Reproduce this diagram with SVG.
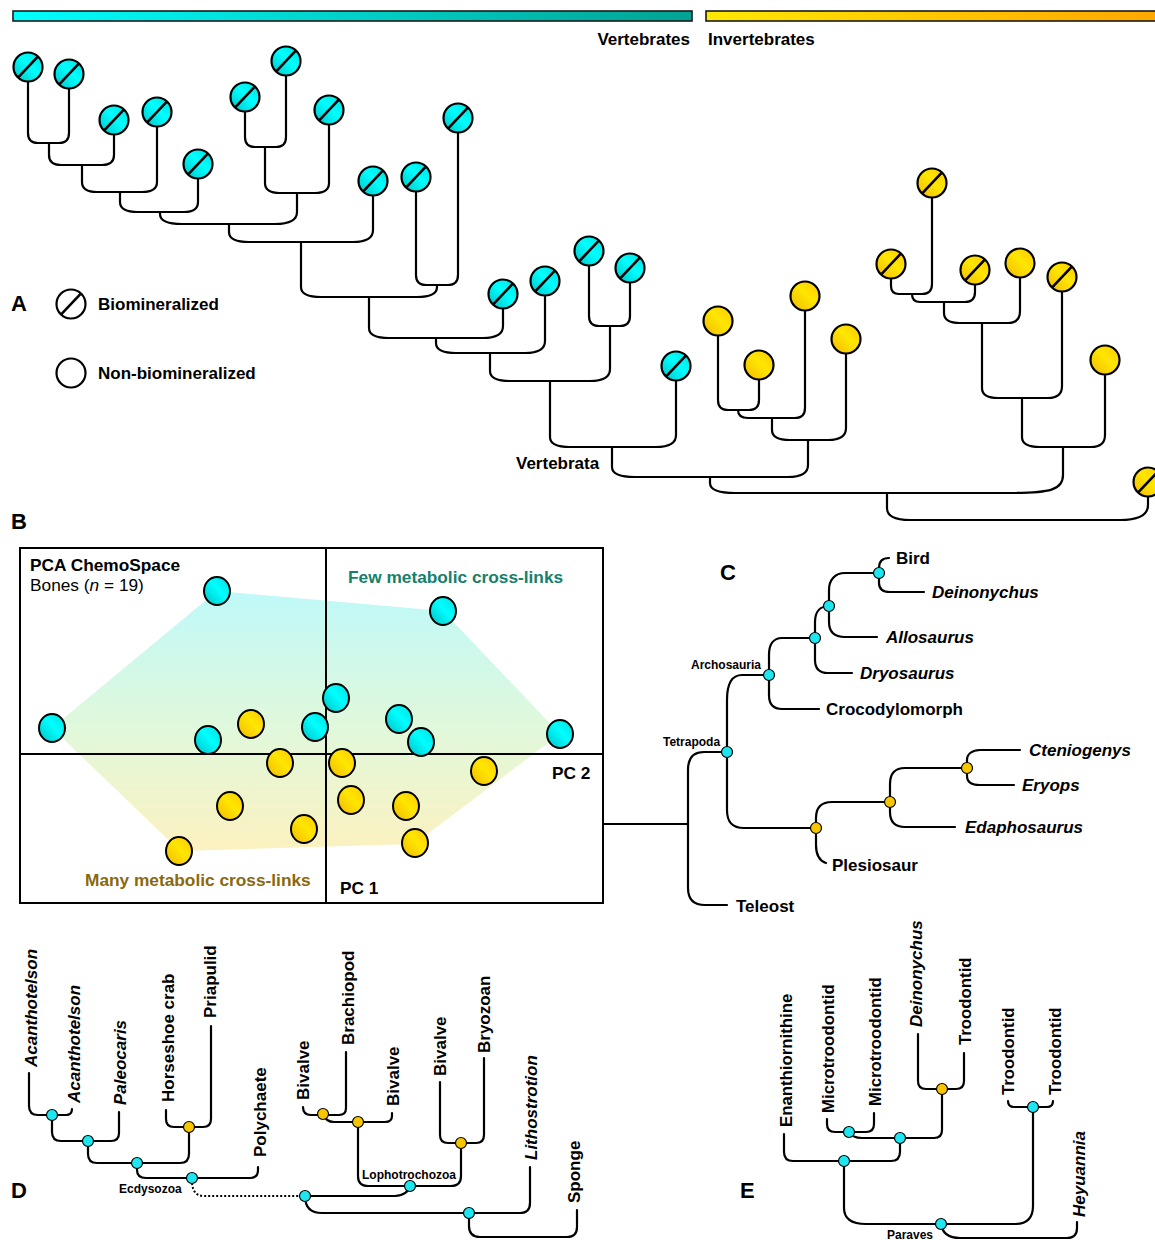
<svg xmlns="http://www.w3.org/2000/svg" xmlns:xlink="http://www.w3.org/1999/xlink" width="1155" height="1240" viewBox="0 0 1155 1240">
<defs>
<linearGradient id="gCyan" x1="0" y1="1" x2="1" y2="0"><stop offset="0" stop-color="#00bfc4"/><stop offset="0.55" stop-color="#00ffff"/><stop offset="1" stop-color="#00dcdc"/></linearGradient>
<linearGradient id="gYel" x1="0" y1="1" x2="1" y2="0"><stop offset="0" stop-color="#f2b800"/><stop offset="0.55" stop-color="#ffe600"/><stop offset="1" stop-color="#ffc800"/></linearGradient>
<linearGradient id="barC" x1="0" y1="0" x2="1" y2="0"><stop offset="0" stop-color="#00ffff"/><stop offset="1" stop-color="#00a393"/></linearGradient>
<linearGradient id="barY" x1="0" y1="0" x2="1" y2="0"><stop offset="0" stop-color="#ffe800"/><stop offset="1" stop-color="#ffa600"/></linearGradient>
<linearGradient id="hull" gradientUnits="userSpaceOnUse" x1="0" y1="591" x2="0" y2="851"><stop offset="0" stop-color="#bff9f8"/><stop offset="0.55" stop-color="#e2f8da"/><stop offset="1" stop-color="#fcf1c0"/></linearGradient>
<g id="tvh"><circle r="14.5" fill="url(#gCyan)" stroke="#000" stroke-width="2.2"/><line x1="-9.8" y1="10.3" x2="9.8" y2="-10.3" stroke="#000" stroke-width="2.6"/></g>
<g id="tyh"><circle r="14.5" fill="url(#gYel)" stroke="#000" stroke-width="2.2"/><line x1="-9.8" y1="10.3" x2="9.8" y2="-10.3" stroke="#000" stroke-width="2.6"/></g>
<g id="tyn"><circle r="14.5" fill="url(#gYel)" stroke="#000" stroke-width="2.2"/></g>
<g id="pc"><ellipse rx="13" ry="14" fill="url(#gCyan)" stroke="#000" stroke-width="2"/></g>
<g id="py"><ellipse rx="13" ry="14" fill="url(#gYel)" stroke="#000" stroke-width="2"/></g>
<circle id="nc" r="5.5" fill="#1de6f0" stroke="#000" stroke-width="1.2"/>
<circle id="ny" r="5.5" fill="#f7c600" stroke="#000" stroke-width="1.2"/>
</defs>
<style>
.br{fill:none;stroke:#000;stroke-width:2.2;stroke-linecap:round;stroke-linejoin:round}
.dot{fill:none;stroke:#000;stroke-width:2;stroke-dasharray:2 2}
text{font-family:"Liberation Sans",Arial,sans-serif;font-weight:bold;fill:#000}
.big{font-size:22px}
.lb{font-size:17px}
.lbE{font-size:16.8px}
.pb{font-size:17.3px}
.sm{font-size:12px}
.it{font-style:italic}
</style>
<rect width="1155" height="1240" fill="#fff"/>

<!-- top bars -->
<g id="bar-vertebrates"><rect x="13" y="11" width="679" height="10" fill="url(#barC)" stroke="#1a1a1a" stroke-width="1.6"/><text x="690" y="45" class="lb" text-anchor="end">Vertebrates</text></g>
<g id="bar-invertebrates"><rect x="706" y="11" width="460" height="10" fill="url(#barY)" stroke="#1a1a1a" stroke-width="1.6"/><text x="708" y="45" class="lb">Invertebrates</text></g>

<!-- Panel A connectors -->
<g id="panelA-connectors">
<path class="br" d="M28,81 V133 Q28,143 38,143 H59 Q69,143 69,133 V88"/>
<path class="br" d="M49,143 V155 Q49,165 61,165 H102 Q114,165 114,155 V134"/>
<path class="br" d="M82,165 V182 Q82,192 97,192 H142 Q157,192 157,182 V126"/>
<path class="br" d="M120,192 V202 Q120,212 138,212 H184 Q198,212 198,202 V178"/>
<path class="br" d="M245,111 V137 Q245,147 255,147 H276 Q286,147 286,137 V75"/>
<path class="br" d="M265,147 V183 Q265,193 280,193 H315 Q329,193 329,183 V124"/>
<path class="br" d="M160,212 V214 Q160,224 182,224 H275 Q297,224 297,212 V193"/>
<path class="br" d="M229,224 V232 Q229,242 249,242 H353 Q373,242 373,230 V195"/>
<path class="br" d="M416,191 V275 Q416,285 426,285 H448 Q458,285 458,275 V132"/>
<path class="br" d="M301,242 V287 Q301,297 321,297 H417 Q437,297 437,287 V285"/>
<path class="br" d="M369,297 V328 Q369,338 389,338 H483 Q503,338 503,326 V308"/>
<path class="br" d="M436,338 V343 Q436,353 456,353 H525 Q545,353 545,341 V295"/>
<path class="br" d="M589,265 V316 Q589,326 599,326 H620 Q630,326 630,316 V282"/>
<path class="br" d="M490,353 V371 Q490,381 510,381 H590 Q610,381 610,369 V326"/>
<path class="br" d="M550,381 V437 Q550,447 570,447 H656 Q676,447 676,435 V380"/>
<path class="br" d="M718,335 V400 Q718,410 728,410 H749 Q759,410 759,400 V379"/>
<path class="br" d="M738,410 Q738,418 748,418 H795 Q805,418 805,408 V310"/>
<path class="br" d="M772,418 V430 Q772,440 790,440 H828 Q846,440 846,428 V353"/>
<path class="br" d="M612,447 V467 Q612,477 635,477 H788 Q808,477 808,465 V440"/>
<path class="br" d="M891,278 V286 Q891,294 899,294 H922 Q932,294 932,284 V197"/>
<path class="br" d="M912,294 Q912,302 920,302 H965 Q975,302 975,292 V284"/>
<path class="br" d="M944,302 V313 Q944,323 960,323 H1008 Q1020,323 1020,311 V277"/>
<path class="br" d="M982,323 V388 Q982,398 998,398 H1048 Q1062,398 1062,386 V291"/>
<path class="br" d="M1022,398 V437 Q1022,447 1040,447 H1091 Q1105,447 1105,435 V374"/>
<path class="br" d="M710,477 V483 Q710,493 735,493 H1010 C1050,493 1063,490 1063,475 V447"/>
<path class="br" d="M887,493 V508 Q887,520 910,520 H1120 Q1148,520 1148,505 V496"/>
</g>

<!-- Panel A tips -->
<g id="tip-01"><use href="#tvh" x="28" y="67"/></g>
<g id="tip-02"><use href="#tvh" x="69" y="74"/></g>
<g id="tip-03"><use href="#tvh" x="114" y="120"/></g>
<g id="tip-04"><use href="#tvh" x="157" y="112"/></g>
<g id="tip-05"><use href="#tvh" x="198" y="164"/></g>
<g id="tip-06"><use href="#tvh" x="245" y="97"/></g>
<g id="tip-07"><use href="#tvh" x="286" y="61"/></g>
<g id="tip-08"><use href="#tvh" x="329" y="110"/></g>
<g id="tip-09"><use href="#tvh" x="373" y="181"/></g>
<g id="tip-10"><use href="#tvh" x="416" y="177"/></g>
<g id="tip-11"><use href="#tvh" x="458" y="118"/></g>
<g id="tip-12"><use href="#tvh" x="503" y="294"/></g>
<g id="tip-13"><use href="#tvh" x="545" y="281"/></g>
<g id="tip-14"><use href="#tvh" x="589" y="251"/></g>
<g id="tip-15"><use href="#tvh" x="630" y="268"/></g>
<g id="tip-16"><use href="#tvh" x="676" y="366"/></g>
<g id="tip-17"><use href="#tyn" x="718" y="321"/></g>
<g id="tip-18"><use href="#tyn" x="759" y="365"/></g>
<g id="tip-19"><use href="#tyn" x="805" y="296"/></g>
<g id="tip-20"><use href="#tyn" x="846" y="339"/></g>
<g id="tip-21"><use href="#tyh" x="891" y="264"/></g>
<g id="tip-22"><use href="#tyh" x="932" y="183"/></g>
<g id="tip-23"><use href="#tyh" x="975" y="270"/></g>
<g id="tip-24"><use href="#tyn" x="1020" y="263"/></g>
<g id="tip-25"><use href="#tyh" x="1062" y="277"/></g>
<g id="tip-26"><use href="#tyn" x="1105" y="360"/></g>
<g id="tip-27"><use href="#tyh" x="1148" y="482"/></g>
<g id="label-vertebrata"><text x="516" y="469" class="lb">Vertebrata</text></g>

<!-- Legend A -->
<g id="legend-A">
<text x="11" y="311" class="big">A</text>
<circle cx="71" cy="304" r="14.5" fill="#fff" stroke="#000" stroke-width="2.2"/>
<line x1="61.2" y1="314.3" x2="80.8" y2="293.7" stroke="#000" stroke-width="2.6"/>
<text x="98" y="310" class="lb">Biomineralized</text>
<circle cx="71" cy="373" r="14.5" fill="#fff" stroke="#000" stroke-width="2.2"/>
<text x="98" y="379" class="lb">Non-biomineralized</text>
</g>

<!-- Panel B -->
<text x="11" y="529" class="big">B</text>
<g id="panelB-pca">
<polygon points="52,728 217,591 443,611 560,734 414,844 180,851" fill="url(#hull)"/>
<rect x="20" y="548" width="583" height="355" fill="none" stroke="#000" stroke-width="2"/>
<line x1="326" y1="548" x2="326" y2="903" stroke="#000" stroke-width="2"/>
<line x1="20" y1="754" x2="603" y2="754" stroke="#000" stroke-width="2"/>
<text x="30" y="571" class="pb">PCA ChemoSpace</text>
<text x="30" y="591" class="pb" style="font-weight:normal">Bones (<tspan font-style="italic">n</tspan> = 19)</text>
<text x="348" y="583" class="pb" style="fill:#15806c">Few metabolic cross-links</text>
<text x="85" y="886" class="pb" style="fill:#8a6810">Many metabolic cross-links</text>
<text x="340" y="894" class="pb">PC 1</text>
<text x="552" y="779" class="pb">PC 2</text>
<use href="#pc" x="217" y="591"/><use href="#pc" x="443" y="611"/><use href="#pc" x="52" y="728"/>
<use href="#pc" x="336" y="698"/><use href="#pc" x="315" y="727"/><use href="#pc" x="208" y="740"/>
<use href="#pc" x="399" y="719"/><use href="#pc" x="421" y="742"/><use href="#pc" x="560" y="734"/>
<use href="#py" x="251" y="724"/><use href="#py" x="280" y="763"/><use href="#py" x="342" y="763"/>
<use href="#py" x="484" y="771"/><use href="#py" x="230" y="806"/><use href="#py" x="351" y="800"/>
<use href="#py" x="406" y="806"/><use href="#py" x="304" y="829"/><use href="#py" x="415" y="843"/>
<use href="#py" x="179" y="851"/>
</g>

<!-- Panel C -->
<text x="720" y="580" class="big">C</text>
<g id="panelC-connectors">
<path class="br" d="M603,824 H688"/>
<path class="br" d="M727,752 H704 Q688,752 688,770 V888 Q688,905 705,905 H727"/>
<path class="br" d="M769,675 H742 C732,675 727,684 727,700 V810 C727,822 732,828 744,828 H816"/>
<path class="br" d="M815,638 H782 C773,638 769,645 769,655 V695 C769,704 773,709 782,709 H819"/>
<path class="br" d="M829,606 C820,606 815,612 815,622 V660 C815,668 819,673 828,673 H852"/>
<path class="br" d="M879,573 H845 C835,573 829,580 829,590 V622 C829,632 835,637 845,637 H877"/>
<path class="br" d="M889,558 C882,558 879,562 879,568 V583 C879,589 883,592 890,592 H924"/>
<path class="br" d="M890,802 H832 C821,802 816,808 816,818 V845 C816,855 820,861 826,863"/>
<path class="br" d="M967,768 H905 C895,768 890,774 890,784 V812 C890,822 895,827 905,827 H955"/>
<path class="br" d="M1020,750 H980 C972,750 967,754 967,760 V776 C967,782 972,785 980,785 H1014"/>
</g>
<g id="C-tetrapoda"><use href="#nc" x="727" y="752"/><text x="663" y="746" class="sm">Tetrapoda</text></g>
<g id="C-archosauria"><use href="#nc" x="769" y="675"/><text x="691" y="669" class="sm">Archosauria</text></g>
<g id="C-n3"><use href="#nc" x="815" y="638"/></g>
<g id="C-n4"><use href="#nc" x="829" y="606"/></g>
<g id="C-n5"><use href="#nc" x="879" y="573"/></g>
<g id="C-y1"><use href="#ny" x="816" y="828"/></g>
<g id="C-y2"><use href="#ny" x="890" y="802"/></g>
<g id="C-y3"><use href="#ny" x="967" y="768"/></g>
<g id="C-bird"><text x="896" y="564" class="lb">Bird</text></g>
<g id="C-deinonychus"><text x="932" y="598" class="lb it">Deinonychus</text></g>
<g id="C-allosaurus"><text x="886" y="643" class="lb it">Allosaurus</text></g>
<g id="C-dryosaurus"><text x="860" y="679" class="lb it">Dryosaurus</text></g>
<g id="C-crocodylomorph"><text x="826" y="715" class="lb">Crocodylomorph</text></g>
<g id="C-cteniogenys"><text x="1029" y="756" class="lb it">Cteniogenys</text></g>
<g id="C-eryops"><text x="1022" y="791" class="lb it">Eryops</text></g>
<g id="C-edaphosaurus"><text x="965" y="833" class="lb it">Edaphosaurus</text></g>
<g id="C-plesiosaur"><text x="832" y="871" class="lb">Plesiosaur</text></g>
<g id="C-teleost"><text x="736" y="912" class="lb">Teleost</text></g>

<!-- Panel D -->
<text x="11" y="1198" class="big">D</text>
<g id="panelD-connectors">
<path class="br" d="M29,1073 V1106 Q29,1115 38,1115 H66 Q72,1115 72,1109"/>
<path class="br" d="M52,1115 V1132 Q52,1141 61,1141 H111 Q119,1141 119,1133 V1112"/>
<path class="br" d="M166,1110 V1119 Q166,1127 174,1127 H203 Q211,1127 211,1119 V1026"/>
<path class="br" d="M88,1141 V1154 Q88,1163 97,1163 H180 Q189,1163 189,1154 V1127"/>
<path class="br" d="M137,1163 V1170 Q137,1178 146,1178 H250 Q258,1178 258,1170 V1167"/>
<path class="dot" d="M192,1183 Q193,1196 204,1196 H300"/>
<path class="br" d="M305,1196 H395 Q408,1195 410,1186"/>
<path class="br" d="M305,1196 Q305,1213 322,1213 H469"/>
<path class="br" d="M358,1122 V1176 Q358,1186 368,1186 H451 Q461,1186 461,1176 V1143"/>
<path class="br" d="M323,1114 Q326,1122 334,1122 H385 Q392,1122 392,1116 V1113"/>
<path class="br" d="M303,1107 Q303,1115 311,1115 H339 Q346,1115 346,1108 V1052"/>
<path class="br" d="M440,1082 V1135 Q440,1143 448,1143 H476 Q484,1143 484,1135 V1058"/>
<path class="br" d="M469,1213 H520 Q530,1213 530,1203 V1167"/>
<path class="br" d="M469,1213 V1226 Q469,1237 480,1237 H567 Q577,1237 577,1227 V1210"/>
</g>
<g id="D-n1"><use href="#nc" x="52" y="1115"/></g>
<g id="D-n2"><use href="#nc" x="88" y="1141"/></g>
<g id="D-y1"><use href="#ny" x="189" y="1127"/></g>
<g id="D-n3"><use href="#nc" x="137" y="1163"/></g>
<g id="D-ecdysozoa"><use href="#nc" x="192" y="1178"/><text x="119" y="1193" class="sm">Ecdysozoa</text></g>
<g id="D-n5"><use href="#nc" x="305" y="1196"/></g>
<g id="D-y9"><use href="#ny" x="323" y="1114"/></g>
<g id="D-y7"><use href="#ny" x="358" y="1122"/></g>
<g id="D-y8"><use href="#ny" x="461" y="1143"/></g>
<g id="D-lophotrochozoa"><use href="#nc" x="410" y="1186"/><text x="362" y="1179" class="sm">Lophotrochozoa</text></g>
<g id="D-n6"><use href="#nc" x="469" y="1213"/></g>
<g id="D-t1"><text transform="translate(37,1067) rotate(-90)" class="lb it">Acanthotelson</text></g>
<g id="D-t2"><text transform="translate(80,1103) rotate(-90)" class="lb it">Acanthotelson</text></g>
<g id="D-t3"><text transform="translate(126,1105) rotate(-90)" class="lb it">Paleocaris</text></g>
<g id="D-t4"><text transform="translate(174,1102) rotate(-90)" class="lb">Horseshoe crab</text></g>
<g id="D-t5"><text transform="translate(216,1018) rotate(-90)" class="lb">Priapulid</text></g>
<g id="D-t6"><text transform="translate(266,1157) rotate(-90)" class="lb">Polychaete</text></g>
<g id="D-t7"><text transform="translate(309,1100) rotate(-90)" class="lb">Bivalve</text></g>
<g id="D-t8"><text transform="translate(354,1045) rotate(-90)" class="lb">Brachiopod</text></g>
<g id="D-t9"><text transform="translate(399,1106) rotate(-90)" class="lb">Bivalve</text></g>
<g id="D-t10"><text transform="translate(446,1076) rotate(-90)" class="lb">Bivalve</text></g>
<g id="D-t11"><text transform="translate(490,1053) rotate(-90)" class="lb">Bryozoan</text></g>
<g id="D-t12"><text transform="translate(537,1160) rotate(-90)" class="lb it">Lithostrotion</text></g>
<g id="D-t13"><text transform="translate(580,1203) rotate(-90)" class="lb">Sponge</text></g>

<!-- Panel E -->
<text x="740" y="1198" class="big">E</text>
<g id="panelE-connectors">
<path class="br" d="M827,1119 V1124 Q827,1132 835,1132 H866 Q874,1132 874,1124 V1113"/>
<path class="br" d="M849,1132 Q852,1138 862,1138 H934 Q942,1138 942,1130 V1089"/>
<path class="br" d="M918,1034 V1081 Q918,1089 926,1089 H956 Q964,1089 964,1081 V1053"/>
<path class="br" d="M784,1134 V1152 Q784,1161 793,1161 H891 Q900,1161 900,1152 V1138"/>
<path class="br" d="M1008,1101 Q1008,1107 1014,1107 H1047 Q1053,1107 1053,1101"/>
<path class="br" d="M844,1161 V1208 Q844,1224 866,1224 H1015 Q1033,1224 1033,1206 V1107"/>
<path class="br" d="M941,1224 Q943,1238 960,1238 H1067 Q1077,1238 1077,1228 V1222"/>
</g>
<g id="E-n1"><use href="#nc" x="849" y="1132"/></g>
<g id="E-n2"><use href="#nc" x="900" y="1138"/></g>
<g id="E-y1"><use href="#ny" x="942" y="1089"/></g>
<g id="E-n3"><use href="#nc" x="844" y="1161"/></g>
<g id="E-n4"><use href="#nc" x="1033" y="1107"/></g>
<g id="E-paraves"><use href="#nc" x="941" y="1224"/><text x="887" y="1239" class="sm">Paraves</text></g>
<g id="E-t1"><text transform="translate(792,1127) rotate(-90)" class="lbE">Enanthiornithine</text></g>
<g id="E-t2"><text transform="translate(834,1113) rotate(-90)" class="lbE">Microtroodontid</text></g>
<g id="E-t3"><text transform="translate(881,1106) rotate(-90)" class="lbE">Microtroodontid</text></g>
<g id="E-t4"><text transform="translate(922,1027) rotate(-90)" class="lb it">Deinonychus</text></g>
<g id="E-t5"><text transform="translate(971,1045) rotate(-90)" class="lbE">Troodontid</text></g>
<g id="E-t6"><text transform="translate(1014,1095) rotate(-90)" class="lbE">Troodontid</text></g>
<g id="E-t7"><text transform="translate(1061,1095) rotate(-90)" class="lbE">Troodontid</text></g>
<g id="E-t8"><text transform="translate(1085,1217) rotate(-90)" class="lb it">Heyuannia</text></g>
</svg>
